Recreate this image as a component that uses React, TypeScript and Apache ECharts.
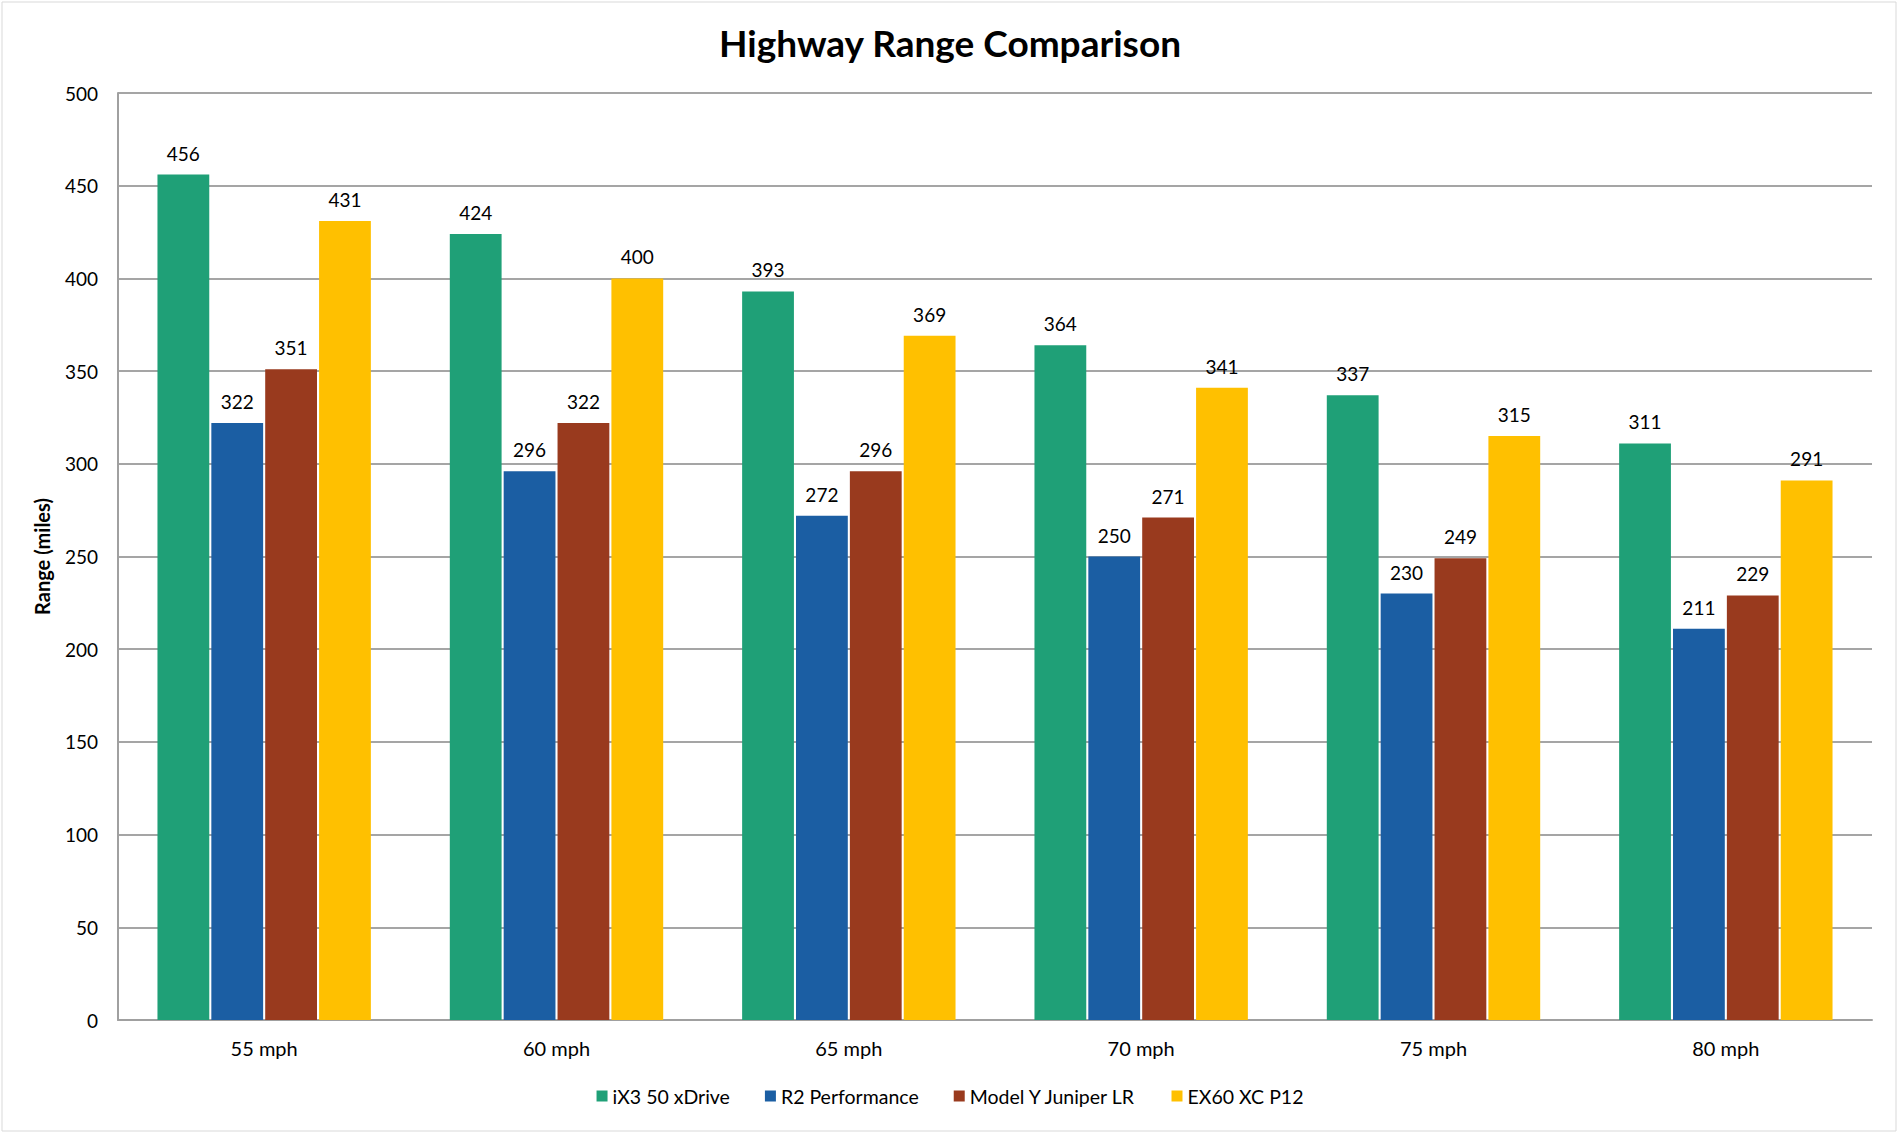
import React, { useEffect, useRef } from "react";
import * as echarts from "echarts";

const categories = ["55 mph", "60 mph", "65 mph", "70 mph", "75 mph", "80 mph"];
const seriesNames = ["iX3 50 xDrive", "R2 Performance", "Model Y Juniper LR", "EX60 XC P12"];
const ix3 = [456, 424, 393, 364, 337, 311];
const r2 = [322, 296, 272, 250, 230, 211];
const modelY = [351, 322, 296, 271, 249, 229];
const ex60 = [431, 400, 369, 341, 315, 291];
const colors = ["#1FA077", "#1B5EA3", "#993A1E", "#FFC000"];

const FONT = "Lato, 'Open Sans', sans-serif";

export default function App() {
  const ref = useRef<HTMLDivElement>(null);
  useEffect(() => {
    document.body.style.margin = "0";
    const chart = echarts.init(ref.current!, null, { renderer: "svg" });
    const values = [ix3, r2, modelY, ex60];
    chart.setOption({
      animation: false,
      backgroundColor: "#ffffff",
      textStyle: { fontFamily: FONT },
      title: {
        text: "Highway Range Comparison",
        left: "center",
        top: 19,
        textStyle: { fontFamily: FONT, fontWeight: "bold", fontSize: 37, color: "#000" },
      },
      legend: {
        data: seriesNames,
        top: 1081,
        left: "center",
        icon: "rect",
        itemWidth: 11,
        itemHeight: 11,
        itemGap: 35,
        textStyle: { fontFamily: FONT, fontSize: 19.5, color: "#000" },
      },
      graphic: [
        {
          type: "rect",
          shape: { x: 2, y: 2, width: 1894, height: 1129 },
          style: { fill: "none", stroke: "#D9D9D9", lineWidth: 1 },
          silent: true,
        },
      ],
      grid: { left: 118, right: 28, top: 93, bottom: 115, containLabel: false },
      xAxis: {
        type: "category",
        data: categories,
        axisLine: { show: true, lineStyle: { color: "#A0A0A0", width: 2 } },
        axisTick: { show: false },
        axisLabel: { margin: 18, fontSize: 20, color: "#000", fontFamily: FONT },
      },
      yAxis: {
        type: "value",
        min: 0,
        max: 500,
        interval: 50,
        name: "Range (miles)",
        nameLocation: "middle",
        nameGap: 66,
        nameTextStyle: { fontFamily: FONT, fontWeight: "bold", fontSize: 20, color: "#000" },
        axisLine: { show: true, lineStyle: { color: "#A0A0A0", width: 2 } },
        axisTick: { show: false },
        axisLabel: { margin: 20, fontSize: 19, color: "#000", fontFamily: FONT },
        splitLine: { lineStyle: { color: "#A5A5A5", width: 2 } },
      },
      series: seriesNames.map((name, i) => ({
        name,
        type: "bar",
        data: values[i],
        barGap: "4%",
        barCategoryGap: "27%",
        itemStyle: { color: colors[i] },
        label: {
          show: true,
          position: "top",
          distance: 12,
          fontSize: 19,
          color: "#000",
          fontFamily: FONT,
        },
      })),
    });
    return () => chart.dispose();
  }, []);
  return <div ref={ref} style={{ width: 1900, height: 1135 }} />;
}
